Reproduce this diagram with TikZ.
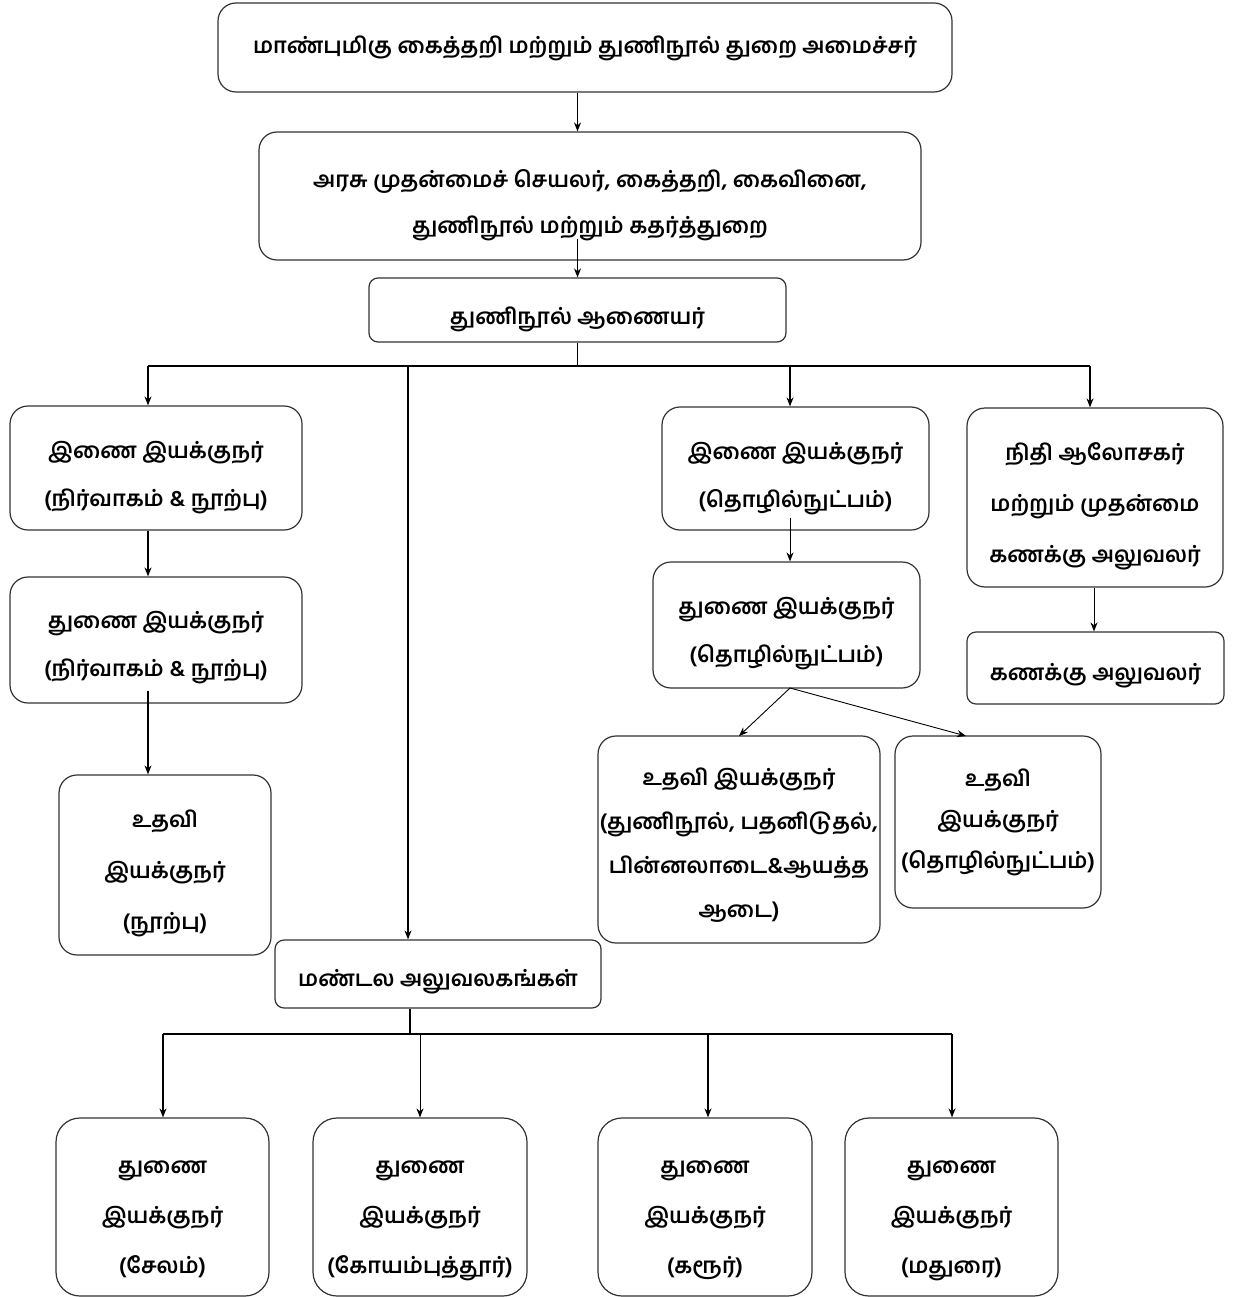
\documentclass[tikz,border=0pt]{standalone}
\usepackage{fontspec}
\newfontfamily\tamil[Script=Tamil]{Hind Madurai}
\usetikzlibrary{arrows.meta,calc}
\newcommand{\tx}[2][0pt]{\raisebox{0pt}[\dimexpr\height+#1\relax][\depth]{\begin{tabular}{@{}c@{}}#2\end{tabular}}}
\begin{document}
\begin{tikzpicture}[x=1pt,y=-1pt,
  box/.style={draw=black!80,line width=1.2pt,rounded corners=18pt,inner sep=0pt,
    font={\tamil\bfseries\fontsize{22}{48}\selectfont}},
  sbox/.style={box,rounded corners=9pt},
  arr/.style={draw=black,line width=1.2pt,-{Stealth[length=9pt,width=7pt]}},
  ln/.style={draw=black,line width=1.2pt}]
\useasboundingbox (0,0) rectangle (1239,1297);
\fill[white] (0,0) rectangle (1239,1297);
% nodes
\node[box,minimum width=734,minimum height=89] (min) at (585,47.5) {\tx[-8pt]{மாண்புமிகு கைத்தறி மற்றும் துணிநூல் துறை அமைச்சர்}};
\node[box,minimum width=662,minimum height=128,font={\tamil\bfseries\fontsize{22}{46}\selectfont}] (sec) at (590,196) {\tx[10pt]{அரசு முதன்மைச் செயலர், கைத்தறி, கைவினை,\\துணிநூல் மற்றும் கதர்த்துறை}};
\node[sbox,minimum width=417,minimum height=64] (com) at (577.5,310) {\tx[10pt]{துணிநூல் ஆணையர்}};
\node[box,minimum width=292,minimum height=124] (jda) at (156,468) {\tx[9pt]{இணை இயக்குநர்\\(நிர்வாகம் \& நூற்பு)}};
\node[box,minimum width=292,minimum height=126] (dda) at (156,640) {\tx[5pt]{துணை இயக்குநர்\\(நிர்வாகம் \& நூற்பு)}};
\node[box,minimum width=212,minimum height=180,font={\tamil\bfseries\fontsize{22}{51}\selectfont}] (adn) at (165,865) {\tx[6pt]{உதவி\\இயக்குநர்\\(நூற்பு)}};
\node[box,minimum width=267,minimum height=123] (jdt) at (795.5,468.5) {\tx[10pt]{இணை இயக்குநர்\\(தொழில்நுட்பம்)}};
\node[box,minimum width=267,minimum height=126] (ddt) at (786.5,625) {\tx[7pt]{துணை இயக்குநர்\\(தொழில்நுட்பம்)}};
\node[box,minimum width=282,minimum height=207,font={\tamil\bfseries\fontsize{22}{44}\selectfont}] (adt1) at (739,839.5) {\tx[7pt]{உதவி இயக்குநர்\\(துணிநூல், பதனிடுதல்,\\பின்னலாடை\&ஆயத்த\\ஆடை)}};
\node[box,minimum width=206,minimum height=172,font={\tamil\bfseries\fontsize{22}{41}\selectfont}] (adt2) at (998,822) {\tx[-6pt]{உதவி\\இயக்குநர்\\(தொழில்நுட்பம்)}};
\node[box,minimum width=256,minimum height=179,font={\tamil\bfseries\fontsize{22}{51}\selectfont}] (fa) at (1095,497.5) {\tx[8pt]{நிதி ஆலோசகர்\\மற்றும் முதன்மை\\கணக்கு அலுவலர்}};
\node[sbox,minimum width=257,minimum height=72] (ao) at (1095.5,668) {\tx[6pt]{கணக்கு அலுவலர்}};
\node[sbox,minimum width=326,minimum height=68] (ro) at (438,974) {\tx[6pt]{மண்டல அலுவலகங்கள்}};
\tikzset{bot/.style={box,minimum height=178,rounded corners=24pt,font={\tamil\bfseries\fontsize{22}{50}\selectfont}}}
\node[bot,minimum width=213] (b1) at (162.5,1207) {\tx[13pt]{துணை\\இயக்குநர்\\(சேலம்)}};
\node[bot,minimum width=214] (b2) at (420,1207) {\tx[13pt]{துணை\\இயக்குநர்\\(கோயம்புத்தூர்)}};
\node[bot,minimum width=214] (b3) at (705,1207) {\tx[13pt]{துணை\\இயக்குநர்\\(கரூர்)}};
\node[bot,minimum width=213] (b4) at (951.5,1207) {\tx[13pt]{துணை\\இயக்குநர்\\(மதுரை)}};
% connectors top
\draw[arr] (min.south -| com) -- (sec.north -| com);
\draw[arr] ($(sec.south -| com)+(0,-22)$) -- (com.north);
\coordinate (bar) at (577.5,366);
\coordinate (t1) at (148,366);
\coordinate (t2) at (408,366);
\coordinate (t3) at (790,366);
\coordinate (t4) at (1090,366);
\draw[ln] (com.south) -- (bar);
\draw[ln] (t1) -- (t4);
\draw[arr] (t1) -- (t1 |- jda.north);
\draw[arr] (t2) -- (t2 |- ro.north);
\draw[arr] (t3) -- (t3 |- jdt.north);
\draw[arr] (t4) -- (t4 |- fa.north);
\draw[arr] (t1 |- jda.south) -- (t1 |- dda.north);
\draw[arr] ($(t1 |- dda.south)+(0,-13)$) -- (t1 |- adn.north);
\draw[arr,line width=0.9pt] ($(t3 |- jdt.south)+(0,-13)$) -- (t3 |- ddt.north);
\coordinate (dd) at (790,688);
\draw[arr,line width=0.9pt] (dd) -- (722,736 -| adt1.north) ;
\draw[arr,line width=0.9pt] (dd) -- (966,736);
\draw[arr,line width=0.9pt] (1094,587 |- fa.south) -- (1094,587 |- ao.north);
% regional
\coordinate (rb) at (410,1034);
\coordinate (s1) at (163,1034);
\coordinate (s2) at (420,1034);
\coordinate (s3) at (708,1034);
\coordinate (s4) at (952,1034);
\draw[ln] (ro.south -| rb) -- (rb);
\draw[ln] (s1) -- (s4);
\draw[arr] (s1) -- (s1 |- b1.north);
\draw[arr,line width=0.9pt] (s2) -- (s2 |- b2.north);
\draw[arr] (s3) -- (s3 |- b3.north);
\draw[arr] (s4) -- (s4 |- b4.north);
\end{tikzpicture}
\end{document}
